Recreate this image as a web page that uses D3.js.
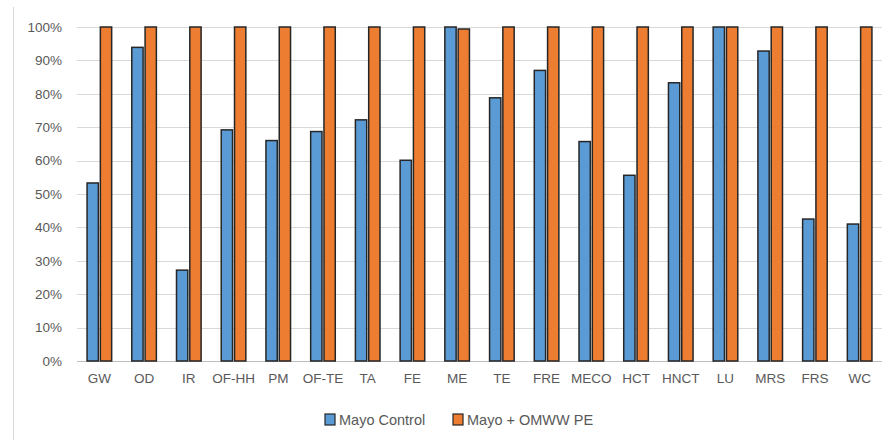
<!DOCTYPE html>
<html><head><meta charset="utf-8">
<script src="https://cdn.jsdelivr.net/npm/d3@7"></script>
<style>body{margin:0;background:#fff;} svg{display:block;}</style>
</head><body>
<svg id="c" width="892" height="440"></svg>
<script>
const categories = ["GW","OD","IR","OF-HH","PM","OF-TE","TA","FE","ME","TE","FRE","MECO","HCT","HNCT","LU","MRS","FRS","WC"];
const mayoControl = [53.3,93.9,27.2,69.2,66.0,68.7,72.2,60.1,100,78.8,87.0,65.7,55.6,83.3,100,92.8,42.5,41.0];
const mayoOMWW = [100,100,100,100,100,100,100,100,99.4,100,100,100,100,100,100,100,100,100];
const seriesNames = ["Mayo Control","Mayo + OMWW PE"];
const yTicks = [0,10,20,30,40,50,60,70,80,90,100];
const colors = ["#5B9BD5","#ED7D31"];

(function(){
const svg = d3.select("#c");
const mLeft = 77, mRight = 882, mTop = 27, mBottom = 361;
const font = "'Liberation Sans', Arial, sans-serif";

// chart frame edge
svg.append("line").attr("x1",13.5).attr("x2",13.5).attr("y1",7).attr("y2",440)
  .attr("stroke","#d9d9d9").attr("stroke-width",1);

const y = d3.scaleLinear().domain([0,100]).range([mBottom, mTop]);
const x0 = d3.scaleBand().domain(categories).range([mLeft, mRight]).paddingInner(0.45).paddingOuter(0.225);
const x1 = d3.scaleBand().domain(seriesNames).range([0, x0.bandwidth()]).paddingInner(0.15);

// gridlines
svg.append("g").selectAll("line").data(yTicks).join("line")
  .attr("x1", mLeft).attr("x2", mRight)
  .attr("y1", d => Math.round(y(d))+0.5).attr("y2", d => Math.round(y(d))+0.5)
  .attr("stroke", d => d===0 ? "#bfbfbf" : "#d9d9d9").attr("stroke-width",1);

// y axis labels
const yAxis = d3.axisLeft(y).tickValues(yTicks).tickFormat(d => d + "%").tickSize(0).tickPadding(0);
const ga = svg.append("g").attr("transform", `translate(${mLeft-15},0)`).call(yAxis);
ga.select(".domain").remove();
ga.selectAll("text").attr("font-family", font).attr("font-size", 13.5).attr("fill", "#595959");

// x axis labels
const xAxis = d3.axisBottom(x0).tickSize(0).tickPadding(0);
const gx = svg.append("g").attr("transform", `translate(0,${mBottom+12})`).call(xAxis);
gx.select(".domain").remove();
gx.selectAll("text").attr("font-family", font).attr("font-size", 13.5).attr("fill", "#595959").attr("dy","0.71em");

// bars
const data = categories.map((c,i) => ({cat:c, vals:[mayoControl[i], mayoOMWW[i]]}));
const groups = svg.append("g").selectAll("g").data(data).join("g")
  .attr("transform", d => `translate(${x0(d.cat)},0)`);
groups.selectAll("rect").data(d => d.vals.map((v,j)=>({v, s:seriesNames[j], j}))).join("rect")
  .attr("x", d => x1(d.s)).attr("width", x1.bandwidth())
  .attr("y", d => y(d.v)).attr("height", d => y(0) - y(d.v))
  .attr("fill", d => colors[d.j]).attr("stroke", "#262626").attr("stroke-width", 1.5);

// legend
const legendX = [325, 453];
const lg = svg.append("g").selectAll("g").data(seriesNames).join("g")
  .attr("transform", (d,i) => `translate(${legendX[i]},414)`);
lg.append("rect").attr("x",0).attr("y",0).attr("width",10).attr("height",11)
  .attr("fill",(d,i)=>colors[i]).attr("stroke","#262626").attr("stroke-width",1.2);
lg.append("text").attr("x",14).attr("y",11).text(d=>d)
  .attr("font-family", font).attr("font-size", 14.5).attr("fill","#595959");
})();
</script>
</body></html>
